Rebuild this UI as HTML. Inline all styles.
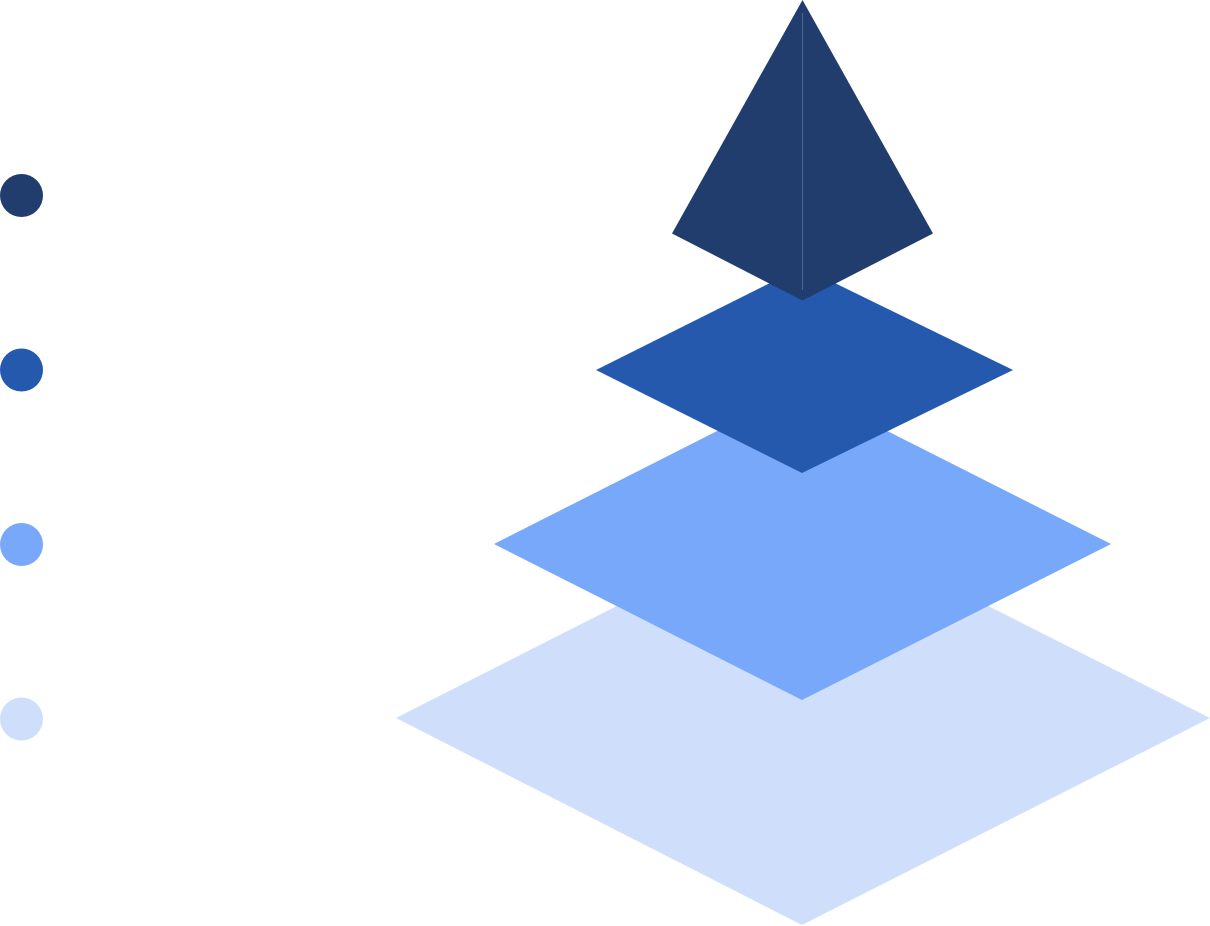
<!DOCTYPE html>
<html>
<head>
<meta charset="utf-8">
<style>
  html, body { margin: 0; padding: 0; background: #ffffff; }
  body { width: 1210px; height: 926px; overflow: hidden; }
  svg { display: block; }
</style>
</head>
<body>
<svg width="1210" height="926" viewBox="0 0 1210 926" xmlns="http://www.w3.org/2000/svg">
  <!-- legend dots -->
  <circle cx="21.5" cy="195.5" r="21.5" fill="#213D6D"/>
  <circle cx="21.5" cy="370" r="21.5" fill="#2459AD"/>
  <circle cx="21.5" cy="544.5" r="21.5" fill="#78A8FA"/>
  <circle cx="21.5" cy="719" r="21.5" fill="#CFDFFB"/>

  <!-- bottom layer -->
  <polygon points="396,718 802,512 1210,718 802,925" fill="#CFDFFB"/>
  <!-- third layer -->
  <polygon points="494,544 802,388 1111,544 802,700" fill="#78A8FA"/>
  <!-- second layer -->
  <polygon points="596,370 802,267 1013,370 802,473" fill="#2459AD"/>
  <!-- top pyramid -->
  <polygon points="802.5,0 933,233.5 802.5,300.5 672,233.5" fill="#213D6D"/>
  <line x1="802.5" y1="13" x2="802.5" y2="290" stroke="#4A6491" stroke-width="1.2"/>
</svg>
</body>
</html>
